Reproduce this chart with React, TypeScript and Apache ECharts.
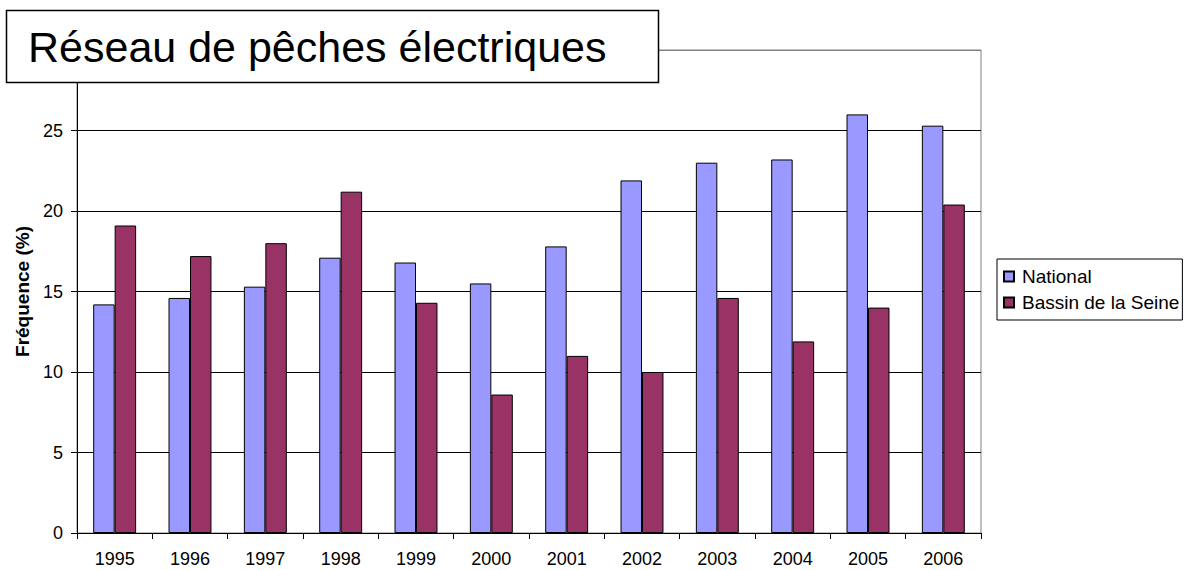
import React, { useEffect, useRef } from "react";
import * as echarts from "echarts";

const years = ["1995", "1996", "1997", "1998", "1999", "2000", "2001", "2002", "2003", "2004", "2005", "2006"];
const nationalValues = [14.2, 14.6, 15.3, 17.1, 16.8, 15.5, 17.8, 21.9, 23.0, 23.2, 26.0, 25.3];
const seineValues = [19.1, 17.2, 18.0, 21.2, 14.3, 8.6, 11.0, 10.0, 14.6, 11.9, 14.0, 20.4];
const seriesNames = ["National", "Bassin de la Seine"];
const titleText = "Réseau de pêches électriques";
const yAxisName = "Fréquence (%)";

const FONT = "Arial, 'Liberation Sans', Helvetica, sans-serif";

export default function App() {
  const ref = useRef<HTMLDivElement>(null);
  useEffect(() => {
    if (!ref.current) return;
    const chart = echarts.init(ref.current, undefined, { renderer: "svg" });
    chart.setOption({
      animation: false,
      backgroundColor: "#ffffff",
      textStyle: { fontFamily: FONT },
      grid: {
        left: 77,
        right: 207,
        top: 50,
        bottom: 37,
        show: true,
        borderColor: "#808080",
        borderWidth: 1,
      },
      legend: {
        orient: "vertical",
        left: 997,
        top: 259,
        data: seriesNames,
        itemWidth: 10,
        itemHeight: 10,
        itemGap: 7,
        padding: [8, 3, 8, 6],
        borderColor: "#000",
        borderWidth: 1,
        icon: "rect",
        textStyle: { fontSize: 19, color: "#000", fontFamily: FONT, padding: [0, 0, 0, 3] },
      },
      xAxis: {
        type: "category",
        data: years,
        axisLine: { lineStyle: { color: "#000", width: 1 } },
        axisTick: { show: true, length: 6, alignWithLabel: false, lineStyle: { color: "#000" } },
        axisLabel: { fontSize: 18, color: "#000", margin: 17, fontFamily: FONT },
        splitLine: { show: false },
      },
      yAxis: {
        type: "value",
        min: 0,
        max: 30,
        interval: 5,
        name: yAxisName,
        nameLocation: "middle",
        nameGap: 44,
        nameTextStyle: { fontSize: 19, fontWeight: "bold", color: "#000", fontFamily: FONT },
        axisLine: { show: true, lineStyle: { color: "#000", width: 1 } },
        axisTick: { show: true, length: 6, lineStyle: { color: "#000" } },
        axisLabel: {
          fontSize: 18,
          color: "#000",
          margin: 14,
          fontFamily: FONT,
          formatter: (v: number) => (v === 30 ? "" : String(v)),
        },
        splitLine: {
          show: true,
          lineStyle: {
            color: ["#000", "#000", "#000", "#000", "#000", "#000", "#808080"],
            width: 1,
          },
        },
      },
      series: [
        {
          name: seriesNames[0],
          type: "bar",
          data: nationalValues,
          barGap: "0%",
          barCategoryGap: "43%",
          itemStyle: { color: "#9999FF", borderColor: "#000", borderWidth: 1 },
        },
        {
          name: seriesNames[1],
          type: "bar",
          data: seineValues,
          barGap: "0%",
          barCategoryGap: "43%",
          itemStyle: { color: "#993366", borderColor: "#000", borderWidth: 1 },
        },
      ],
      graphic: [
        {
          type: "group",
          z: 100,
          children: [
            {
              type: "rect",
              shape: { x: 6.5, y: 10.5, width: 652, height: 72 },
              style: { fill: "#ffffff", stroke: "#000", lineWidth: 1.5 },
              z: 100,
            },
            {
              type: "text",
              x: 28,
              y: 47,
              z: 101,
              style: {
                text: titleText,
                fontSize: 43,
                fontFamily: FONT,
                fill: "#000",
                textVerticalAlign: "middle",
                verticalAlign: "middle",
              },
            },
          ],
        },
      ],
    });
    return () => chart.dispose();
  }, []);
  return <div ref={ref} style={{ width: 1188, height: 570, position: "absolute", left: 0, top: 0 }} />;
}
